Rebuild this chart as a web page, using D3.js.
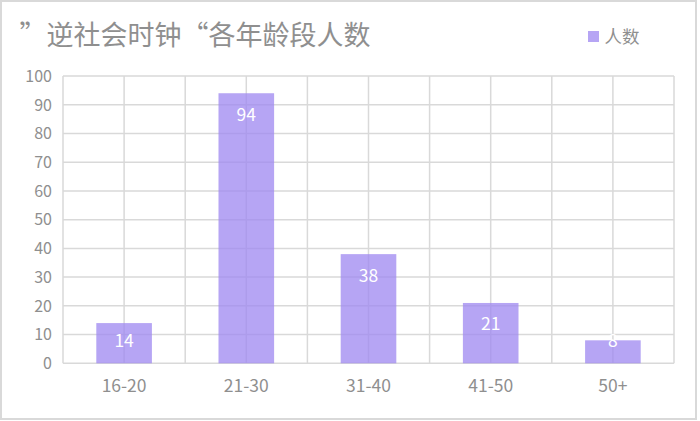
<!DOCTYPE html>
<html lang="zh">
  <head>
    <meta charset="UTF-8" />
    <script src="https://d3js.org/d3.v7.min.js"></script>
    <style>
      body { margin: 0; background: #fff; }
      text { font-family: "Noto Sans CJK SC", "Noto Sans", sans-serif; }
    </style>
  </head>
  <body>
    <script>
      const categories = ["16-20", "21-30", "31-40", "41-50", "50+"];
      const counts = [14, 94, 38, 21, 8];
      const yTicks = [0, 10, 20, 30, 40, 50, 60, 70, 80, 90, 100];
      const title = "”逆社会时钟“各年龄段人数";
      const seriesName = "人数";

      const W = 700, H = 421;
      const plotLeft = 63, plotRight = 674, plotTop = 76, plotBottom = 363.3;
      const textColor = "#8f8f8f";
      const barColor = "#9e87f0";

      let svg = d3.select("body").append("svg").attr("width", W).attr("height", H);

      // outer frame
      svg.append("rect")
        .attr("x", 1).attr("y", 1)
        .attr("width", 695).attr("height", 418)
        .attr("fill", "#fff")
        .attr("stroke", "#d9d9d9")
        .attr("stroke-width", 2);

      let x = d3.scaleBand().domain(categories).range([plotLeft, plotRight]);
      let y = d3.scaleLinear().domain([0, 100]).range([plotBottom, plotTop]);

      // grid
      let g = svg.append("g");
      g.selectAll("line.h")
        .data(yTicks)
        .enter()
        .append("line")
        .attr("x1", plotLeft).attr("x2", plotRight)
        .attr("y1", d => y(d)).attr("y2", d => y(d))
        .attr("stroke", "#d9d9d9")
        .attr("stroke-width", 1.5);

      // vertical lines at band edges and band centres
      let vx = [];
      categories.forEach(c => {
        vx.push(x(c));
        vx.push(x(c) + x.bandwidth() / 2);
      });
      vx.push(plotRight);
      g.selectAll("line.v")
        .data(vx)
        .enter()
        .append("line")
        .attr("x1", d => d).attr("x2", d => d)
        .attr("y1", plotTop).attr("y2", plotBottom)
        .attr("stroke", "#d9d9d9")
        .attr("stroke-width", 1.5);

      // bars
      const bw = x.bandwidth() * 0.455;
      svg.selectAll("rect.bar")
        .data(counts)
        .enter()
        .append("rect")
        .attr("x", (d, i) => x(categories[i]) + x.bandwidth() / 2 - bw / 2)
        .attr("y", d => y(d))
        .attr("width", bw)
        .attr("height", d => y(0) - y(d))
        .attr("fill", barColor)
        .attr("fill-opacity", 0.75);

      // value labels (inside end, pushed up for short bars)
      svg.selectAll("text.val")
        .data(counts)
        .enter()
        .append("text")
        .attr("x", (d, i) => x(categories[i]) + x.bandwidth() / 2)
        .attr("y", d => Math.min(y(d) + 27.5, y(0) - 16))
        .attr("text-anchor", "middle")
        .attr("fill", "#fff")
        .attr("font-size", 17.5)
        .text(d => d);

      // y tick labels
      svg.selectAll("text.yt")
        .data(yTicks)
        .enter()
        .append("text")
        .attr("x", 52)
        .attr("y", d => y(d) + 5.8)
        .attr("text-anchor", "end")
        .attr("fill", textColor)
        .attr("font-size", 16)
        .text(d => d);

      // x tick labels
      svg.selectAll("text.xt")
        .data(categories)
        .enter()
        .append("text")
        .attr("x", d => x(d) + x.bandwidth() / 2)
        .attr("y", 392.3)
        .attr("text-anchor", "middle")
        .attr("fill", textColor)
        .attr("font-size", 17.5)
        .text(d => d);

      // title
      svg.append("text")
        .attr("x", 19.5).attr("y", 45)
        .attr("fill", textColor)
        .attr("font-size", 27)
        .text(title);

      // legend
      svg.append("rect")
        .attr("x", 588).attr("y", 31)
        .attr("width", 11).attr("height", 11)
        .attr("fill", barColor)
        .attr("fill-opacity", 0.75);
      svg.append("text")
        .attr("x", 604.5).attr("y", 43)
        .attr("fill", textColor)
        .attr("font-size", 17.5)
        .text(seriesName);
    </script>
  </body>
</html>
